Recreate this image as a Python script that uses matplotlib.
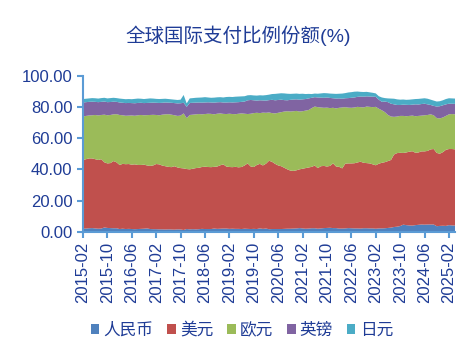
import matplotlib.pyplot as plt
import numpy as np
import pandas as pd

plt.rcParams['font.family'] = ['Liberation Sans', 'Noto Sans CJK SC']

# monthly, 2015-02 .. 2025-04
months = pd.date_range('2015-02-01', periods=123, freq='MS').strftime('%Y-%m').tolist()

names = ['人民币', '美元', '欧元', '英镑', '日元']
colors = ['#4F81BD', '#C0504D', '#9BBB59', '#8064A2', '#4BACC6']

cny = [2.0, 2.1, 2.3, 2.4, 2.2, 2.0, 2.1, 2.8, 2.5, 2.4, 2.3, 2.3,
       1.8, 2.0, 1.8, 1.9, 1.8, 1.7, 1.8, 1.9, 2.0, 2.2, 1.8, 1.7,
       1.7, 1.6, 1.6, 1.5, 1.6, 1.5, 1.4, 1.6, 1.5, 1.2, 1.8, 1.6,
       1.7, 1.6, 1.7, 1.9, 1.8, 1.8, 1.8, 2.1, 1.9, 2.0, 2.1, 2.1,
       1.9, 2.0, 1.9, 1.9, 1.8, 2.0, 1.9, 1.8, 1.9, 1.8, 2.2, 1.9,
       2.1, 1.7, 1.8, 1.8, 1.8, 1.8, 1.9, 2.0, 2.0, 2.1, 2.2, 2.4,
       2.2, 2.0, 2.1, 2.3, 2.3, 2.0, 2.2, 2.4, 2.5, 2.6, 2.4, 2.4,
       2.1, 2.1, 2.2, 2.4, 2.3, 2.2, 2.2, 2.1, 2.3, 2.3, 2.2, 2.2,
       2.0, 2.2, 2.2, 2.3, 2.5, 2.7, 3.1, 3.3, 3.7, 4.6, 4.3, 4.1,
       4.0, 4.3, 4.5, 4.7, 4.6, 4.7, 4.7, 4.7, 3.6, 3.8, 3.9, 3.8,
       4.3, 4.1, 4.0]

usd = [44.0, 44.4, 44.7, 44.6, 44.3, 44.0, 44.4, 41.7, 41.3, 41.6, 43.0, 42.2,
       41.0, 41.5, 41.5, 41.5, 41.2, 41.5, 41.0, 40.9, 41.0, 40.3, 40.4, 40.8,
       41.7, 41.6, 40.8, 40.5, 40.0, 39.9, 40.6, 39.6, 39.3, 39.4, 38.4, 38.4,
       38.7, 39.2, 39.3, 39.6, 39.9, 39.7, 39.6, 39.5, 39.9, 40.6, 41.1, 39.7,
       39.6, 39.4, 39.7, 39.4, 39.7, 40.5, 41.9, 40.0, 39.6, 41.0, 41.3, 40.6,
       41.5, 43.8, 43.0, 41.7, 40.7, 40.2, 39.1, 38.0, 37.2, 36.9, 37.2, 37.6,
       38.2, 38.8, 39.1, 39.3, 40.1, 38.8, 39.8, 39.8, 39.3, 39.6, 41.4, 39.4,
       39.5, 38.5, 41.4, 41.4, 41.5, 41.7, 42.2, 42.8, 41.9, 41.7, 41.6, 41.0,
       40.6, 41.4, 42.0, 42.3, 42.8, 43.3, 46.4, 47.1, 46.9, 45.9, 46.5, 47.2,
       47.6, 46.3, 46.3, 46.8, 46.9, 47.1, 48.1, 48.3, 46.9, 46.2, 47.1, 48.7,
       48.7, 48.9, 48.8]

eur = [27.8, 27.7, 27.5, 27.6, 28.3, 28.5, 28.3, 30.5, 30.8, 30.8, 29.9, 30.8,
       32.0, 31.1, 31.0, 31.0, 31.5, 31.1, 31.8, 32.0, 31.6, 32.2, 32.6, 32.4,
       31.4, 31.4, 32.6, 33.2, 33.7, 33.6, 32.6, 33.0, 33.6, 35.2, 32.6, 34.8,
       34.6, 34.4, 34.4, 33.7, 33.7, 34.1, 34.1, 33.6, 33.8, 33.2, 32.3, 33.6,
       34.1, 34.0, 33.7, 34.3, 34.3, 33.1, 31.6, 33.8, 34.5, 33.4, 32.5, 33.8,
       32.6, 30.9, 31.2, 32.3, 33.7, 34.6, 36.0, 37.2, 37.8, 38.2, 38.0, 37.0,
       36.8, 36.8, 36.8, 37.6, 37.8, 39.0, 37.6, 37.2, 37.7, 37.0, 35.6, 37.2,
       37.8, 39.0, 36.2, 35.7, 35.6, 35.7, 35.6, 34.9, 35.4, 36.2, 36.2, 36.6,
       37.4, 35.2, 33.6, 32.0, 29.5, 27.8, 24.1, 23.4, 23.6, 23.7, 23.2, 22.9,
       22.8, 23.4, 23.4, 22.9, 23.1, 23.0, 22.4, 21.6, 22.3, 22.6, 22.2, 21.7,
       22.2, 22.4, 22.4]

gbp = [9.0, 8.8, 8.7, 8.7, 8.4, 8.5, 8.4, 8.4, 8.4, 8.3, 8.1, 7.9,
       8.0, 8.0, 8.1, 8.1, 7.9, 8.0, 7.9, 7.8, 7.8, 7.8, 7.8, 7.8,
       7.8, 7.9, 7.6, 7.6, 7.4, 7.6, 7.8, 8.0, 7.9, 6.8, 7.2, 7.7,
       7.6, 7.5, 7.4, 7.5, 7.4, 7.3, 7.3, 7.5, 7.3, 7.2, 7.3, 7.4,
       7.3, 7.4, 7.6, 7.4, 7.4, 7.8, 8.8, 8.8, 8.2, 7.8, 8.2, 7.8,
       7.8, 7.9, 8.5, 8.4, 8.2, 8.0, 7.3, 7.0, 7.5, 7.5, 7.4, 7.6,
       7.6, 7.4, 7.4, 6.6, 6.0, 6.2, 6.3, 6.4, 6.5, 6.5, 6.1, 6.3,
       6.0, 5.6, 5.7, 6.1, 6.4, 6.4, 6.4, 6.8, 6.9, 6.5, 6.6, 6.7,
       6.4, 5.8, 5.4, 6.8, 8.2, 8.2, 8.0, 7.4, 7.0, 7.2, 7.3, 7.0,
       7.0, 7.6, 7.3, 7.4, 7.4, 6.8, 6.0, 6.0, 7.4, 7.8, 7.8, 7.4,
       6.8, 6.6, 6.7]

jpy = [2.2, 2.2, 2.2, 2.3, 2.3, 2.3, 2.4, 2.4, 2.4, 2.5, 2.5, 2.4,
       2.5, 2.5, 2.5, 2.5, 2.5, 2.8, 2.8, 2.6, 2.6, 2.7, 2.8, 2.6,
       2.5, 2.5, 2.5, 2.4, 2.3, 2.2, 2.2, 2.2, 2.3, 5.0, 2.2, 2.9,
       3.0, 3.1, 3.1, 3.3, 3.4, 3.1, 3.0, 3.2, 3.2, 3.2, 3.2, 3.5,
       3.5, 3.5, 3.6, 3.6, 3.5, 3.4, 3.2, 3.1, 3.1, 3.2, 3.2, 3.2,
       3.5, 3.5, 3.7, 4.1, 4.1, 4.1, 4.3, 4.2, 3.8, 3.7, 3.7, 3.7,
       3.6, 3.2, 2.9, 2.4, 2.3, 2.4, 2.7, 3.0, 2.7, 2.8, 2.9, 3.0,
       3.0, 3.3, 3.3, 3.6, 3.6, 3.7, 3.4, 3.0, 3.0, 2.9, 2.7, 2.5,
       2.2, 2.2, 2.8, 2.2, 2.4, 3.3, 3.6, 3.6, 3.4, 3.3, 3.2, 3.4,
       3.4, 3.4, 3.6, 3.5, 3.5, 3.6, 3.4, 3.4, 3.2, 3.2, 3.2, 3.4,
       3.5, 3.4, 3.4]

txt = '#1F3C96'
axis_c = '#5B9BD5'

fig = plt.figure(figsize=(4.77, 3.6), dpi=100)
ax = fig.add_axes([0.174, 0.356, 0.780, 0.434])

x = np.arange(len(months))
ax.stackplot(x, cny, usd, eur, gbp, jpy, labels=names, colors=colors, linewidth=0)

ax.set_xlim(0, len(months) - 1)
ax.set_ylim(0, 100)
ax.set_yticks(np.arange(0, 101, 20))
ax.set_yticklabels([f'{v:.2f}' for v in np.arange(0, 101, 20)])
ax.set_xticks(x[::8])
ax.set_xticklabels(months[::8], rotation=90)

for s in ['top', 'right']:
    ax.spines[s].set_visible(False)
for s in ['left', 'bottom']:
    ax.spines[s].set_color(axis_c)
    ax.spines[s].set_linewidth(1.5)
ax.tick_params(axis='both', colors=axis_c, labelcolor=txt, labelsize=12,
               direction='out', length=4, width=1.5)
ax.tick_params(axis='x', pad=3)

fig.text(0.5, 0.9, '全球国际支付比例份额(%)', ha='center', va='center',
         fontsize=14, color=txt)

fig.legend(loc='center', bbox_to_anchor=(0.507, 0.083), ncol=5, frameon=False,
           fontsize=12, labelcolor=txt, handlelength=0.5, handleheight=0.5,
           handletextpad=0.25, columnspacing=0.85)

fig.savefig('out.png', dpi=100)
